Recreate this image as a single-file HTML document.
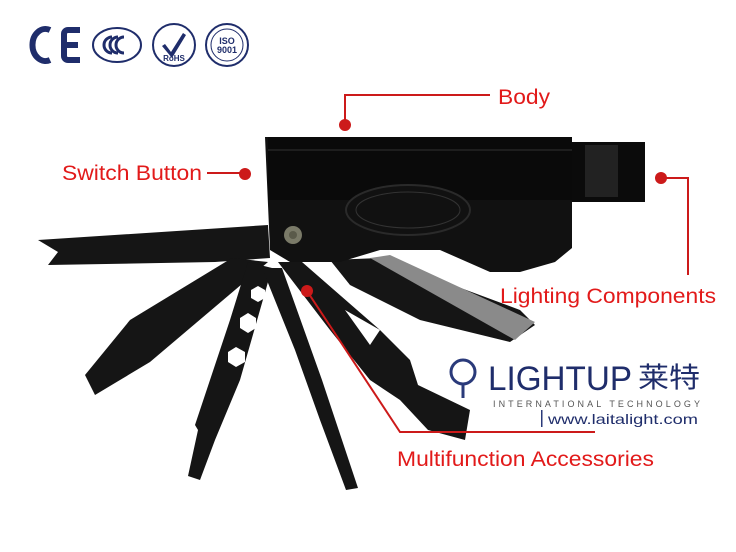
<!DOCTYPE html>
<html><head><style>
body{margin:0;background:#fff;}
svg{display:block;}
text{font-family:"Liberation Sans",sans-serif;}
</style></head><body>
<svg width="736" height="552" viewBox="0 0 736 552" xmlns="http://www.w3.org/2000/svg">
<rect width="736" height="552" fill="#fff"/>
<g fill="none" stroke="#1f2d6b">
<path d="M50 30 A13 16 0 1 0 50 60" stroke-width="6"/>
<path d="M80 30 H68 A4 4 0 0 0 64 34 V56 A4 4 0 0 0 68 60 H80 M64 45 H78" stroke-width="6"/>
<ellipse cx="117" cy="45" rx="24" ry="17" stroke-width="2"/>
<path d="M112 37 A8 8 0 1 0 112 53 M118 37 A8 8 0 1 0 118 53 M124 37 A8 8 0 1 0 124 53" stroke-width="3"/>
<circle cx="174" cy="45" r="21" stroke-width="2"/>
<circle cx="227" cy="45" r="21" stroke-width="2"/>
<circle cx="227" cy="45" r="16" stroke-width="1"/>
</g>
<path d="M165 44 L171 52 L183 33 L186 35 L172 58 L162 46Z" fill="#1f2d6b"/>
<text x="174" y="61" font-size="8" font-weight="bold" fill="#1f2d6b" text-anchor="middle">RoHS</text>
<text x="227" y="44" font-size="9" font-weight="bold" fill="#1f2d6b" text-anchor="middle" font-family="Liberation Serif">ISO</text>
<text x="227" y="53" font-size="9" font-weight="bold" fill="#1f2d6b" text-anchor="middle" font-family="Liberation Serif">9001</text>
<g fill="#151515">
<path d="M38 240 L268 225 L270 258 L215 262 L48 265 L58 252Z"/>
<path d="M232 258 L268 262 L150 362 L95 395 L85 375 L130 320Z"/>
<path d="M248 262 L272 268 L240 380 L215 440 L200 480 L188 476 L198 430 L195 425 L230 320Z"/>
<path d="M262 268 L282 268 L322 380 L358 488 L346 490 L320 420 L295 350Z"/>
<path d="M278 262 L302 262 L380 330 L410 360 L418 385 L470 410 L465 440 L428 430 L400 400 L370 380 L330 330Z"/>
<path d="M330 260 L380 258 L520 310 L535 325 L510 342 L420 320 L350 285Z"/>
</g>
<path d="M370 258 L390 255 L535 322 L515 340Z" fill="#8a8a8a"/>
<path d="M345 310 L380 330 L370 345Z" fill="#fff"/>
<g fill="#fff">
<polygon points="251,290 258,286 265,290 265,298 258,302 251,298"/>
<polygon points="240,318 248,313 256,318 256,328 248,333 240,328"/>
<polygon points="228,352 236,347 245,352 245,362 236,367 228,362"/>
</g>
<path d="M265 137 H572 V248 L555 262 L520 272 L490 272 L440 250 L380 250 L340 262 L290 262 L270 250Z" fill="#111"/>
<rect x="268" y="137" width="304" height="63" fill="#0a0a0a"/>
<path d="M268 150 H572" stroke="#333" stroke-width="1"/>
<rect x="572" y="142" width="73" height="60" fill="#0b0b0b"/>
<rect x="585" y="145" width="33" height="52" fill="#222"/>
<ellipse cx="408" cy="210" rx="62" ry="25" fill="#111" stroke="#2a2a2a" stroke-width="2"/>
<ellipse cx="408" cy="210" rx="52" ry="18" fill="none" stroke="#333" stroke-width="1"/>
<circle cx="293" cy="235" r="9" fill="#7a7a68"/>
<circle cx="293" cy="235" r="4" fill="#5a5a4a"/>
<g stroke="#cc1a1a" stroke-width="2" fill="none">
<path d="M345 125 V95 H490"/>
<path d="M207 173 H245"/>
<path d="M660 178 H688 V275"/>
<path d="M307 291 L400 432 H595"/>
</g>
<g fill="#cc1a1a">
<circle cx="345" cy="125" r="6"/>
<circle cx="245" cy="174" r="6"/>
<circle cx="661" cy="178" r="6"/>
<circle cx="307" cy="291" r="6"/>
</g>
<g fill="#e21a1a" font-size="21">
<text x="498" y="104" textLength="52" lengthAdjust="spacingAndGlyphs">Body</text>
<text x="62" y="180" textLength="140" lengthAdjust="spacingAndGlyphs">Switch Button</text>
<text x="500" y="303" textLength="216" lengthAdjust="spacingAndGlyphs">Lighting Components</text>
<text x="397" y="466" textLength="257" lengthAdjust="spacingAndGlyphs">Multifunction Accessories</text>
</g>
<g fill="#2a3a7a">
<circle cx="463" cy="372" r="12" fill="none" stroke="#2a3a7a" stroke-width="3"/>
<path d="M463 384 V398" stroke="#2a3a7a" stroke-width="3"/>
<text x="488" y="390" font-size="34" fill="#1f2d6b" textLength="144" lengthAdjust="spacingAndGlyphs">LIGHTUP</text>
<text x="638" y="387" font-size="28" font-family="Liberation Sans,'Noto Sans CJK SC',sans-serif" fill="#1f2d6b" textLength="62" lengthAdjust="spacingAndGlyphs">莱特</text>
<text x="493" y="407" font-size="9" font-family="Liberation Serif" fill="#555" textLength="207" lengthAdjust="spacing">INTERNATIONAL TECHNOLOGY</text>
<rect x="541" y="410" width="1.5" height="17"/>
<text x="548" y="424" font-size="14" fill="#1f2d6b" textLength="150" lengthAdjust="spacingAndGlyphs">www.laitalight.com</text>
</g>
</svg>
</body></html>
